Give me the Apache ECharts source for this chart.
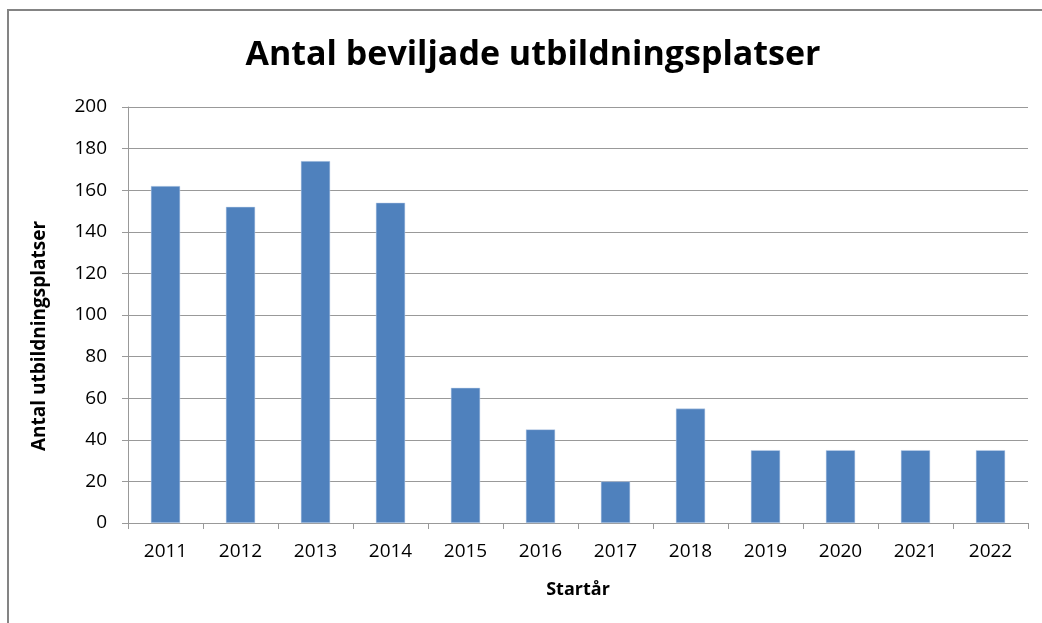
<!DOCTYPE html>
<html><head><meta charset="utf-8">
<script src="https://cdn.jsdelivr.net/npm/echarts@6/dist/echarts.min.js"></script>
<style>html,body{margin:0;padding:0;background:#fff}#c{width:1042px;height:623px}</style>
</head><body><div id="c"></div>
<script>
const titleText = 'Antal beviljade utbildningsplatser';
const yAxisName = 'Antal utbildningsplatser';
const xAxisName = 'Startår';
const categories = ['2011','2012','2013','2014','2015','2016','2017','2018','2019','2020','2021','2022'];
const values = [162, 152, 174, 154, 65, 45, 20, 55, 35, 35, 35, 35];
const yTicks = {min: 0, max: 200, interval: 20};

const font = '"Open Sans", "Noto Sans", sans-serif';
const chart = echarts.init(document.getElementById('c'), null, {renderer: 'canvas'});
chart.setOption({
  animation: false,
  backgroundColor: '#fff',
  title: {
    text: titleText, left: 528, top: 33, textAlign: 'center',
    textStyle: {fontFamily: font, fontWeight: 'bold', fontSize: 34, color: '#000'}
  },
  graphic: [
    {type: 'rect', shape: {x: 8, y: 10, width: 1100, height: 700}, style: {fill: 'none', stroke: '#848484', lineWidth: 2}, silent: true},
    {type: 'text', x: 40, y: 336, rotation: Math.PI / 2,
     style: {text: yAxisName, fontFamily: font, fontWeight: 'bold', fontSize: 19, fill: '#000', align: 'center', verticalAlign: 'middle'}}
  ],
  grid: {left: 128, right: 14, top: 107, bottom: 100, containLabel: false},
  xAxis: {
    type: 'category', data: categories, boundaryGap: true,
    name: xAxisName, nameLocation: 'middle', nameGap: 58,
    nameTextStyle: {fontFamily: font, fontWeight: 'bold', fontSize: 18, color: '#000'},
    axisLine: {lineStyle: {color: '#999', width: 1}},
    axisTick: {show: true, alignWithLabel: false, length: 6, lineStyle: {color: '#999'}},
    axisLabel: {fontFamily: font, fontSize: 19, color: '#000', margin: 19}
  },
  yAxis: {
    type: 'value', min: yTicks.min, max: yTicks.max, interval: yTicks.interval,
    axisLine: {show: true, lineStyle: {color: '#999', width: 1}},
    axisTick: {show: true, length: 6, lineStyle: {color: '#999'}},
    axisLabel: {fontFamily: font, fontSize: 19, color: '#000', margin: 21},
    splitLine: {show: true, lineStyle: {color: '#999', width: 1}}
  },
  series: [{
    type: 'bar', data: values, barWidth: '39%',
    itemStyle: {color: '#4f81bd', borderColor: '#c6d6ec', borderWidth: 0.5}
  }]
});
</script></body></html>
